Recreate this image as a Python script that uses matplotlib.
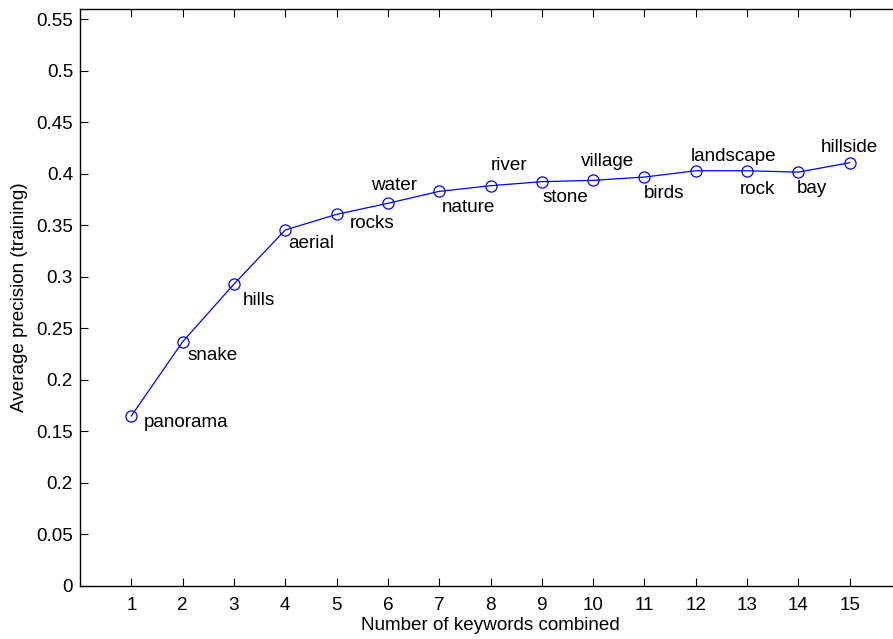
import matplotlib
matplotlib.use('Agg')
import matplotlib.pyplot as plt

# values
n_keywords = list(range(1, 16))
avg_precision = [0.165, 0.237, 0.293, 0.3455, 0.3607, 0.3714, 0.383, 0.3885,
                 0.3924, 0.3937, 0.3969, 0.403, 0.403, 0.4017, 0.4108]
keywords = ['panorama', 'snake', 'hills', 'aerial', 'rocks', 'water', 'nature',
            'river', 'stone', 'village', 'birds', 'landscape', 'rock', 'bay',
            'hillside']
ytick_vals = [0, 0.05, 0.1, 0.15, 0.2, 0.25, 0.3, 0.35, 0.4, 0.45, 0.5, 0.55]
ytick_labels = ['0', '0.05', '0.2', '0.15', '0.2', '0.25', '0.3', '0.35',
                '0.4', '0.45', '0.5', '0.55']

# label offsets in pixels from each point (left edge of text)
label_offsets = [(12, -6.5), (5, -13.5), (9, -16.5), (3, -13.5), (13, -9.5),
                 (-17, 17.5), (3, -16.5), (0, 20.5), (1, -15.5), (-12, 18.5),
                 (-1, -16.5), (-5, 14.5), (-7, -18.5), (-2, -16.5), (-29, 15.5)]

plt.rcParams['font.family'] = ['Liberation Sans', 'DejaVu Sans']
fs = 13.6

fig = plt.figure(figsize=(8.93, 6.39), dpi=100)
# axes runs a little past the right edge of the image (cropped in the original)
ax = fig.add_axes([80 / 893, 53 / 639, 821 / 893, 577 / 639])

ax.plot(n_keywords, avg_precision, color='#0000ff', linewidth=0.9,
        marker='o', markersize=8, markerfacecolor='none',
        markeredgecolor='#0000ff', markeredgewidth=0.9)

for x, y, word, off in zip(n_keywords, avg_precision, keywords, label_offsets):
    ax.annotate(word, (x, y), xytext=off, textcoords='offset pixels',
                ha='left', va='center', fontsize=fs)

ax.set_xlim(0, 16)
ax.set_ylim(0, 0.56)
ax.set_xticks(n_keywords)
ax.set_yticks(ytick_vals)
ax.set_yticklabels(ytick_labels)
ax.tick_params(direction='in', length=5.7, width=0.8, labelsize=fs,
               top=True, right=True, pad=5)
ax.tick_params(axis='x', pad=8)

for s in ax.spines.values():
    s.set_linewidth(1.0)
ax.spines['right'].set_visible(False)

ax.set_xlabel('Number of keywords combined', fontsize=fs, labelpad=2)
ax.set_ylabel('Average precision (training)', fontsize=fs, labelpad=6)

fig.savefig('out.png', dpi=100)
